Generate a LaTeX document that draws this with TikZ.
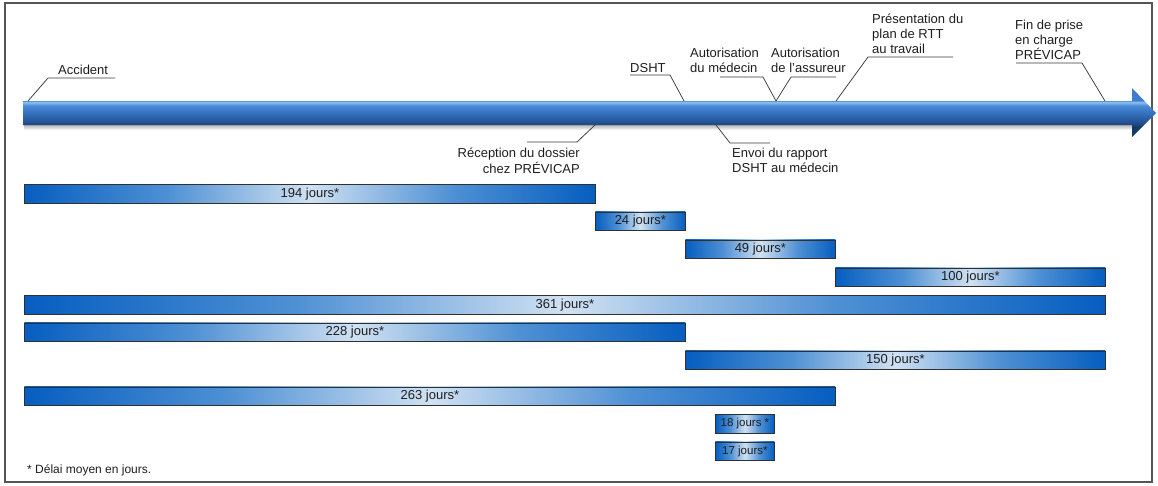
\documentclass[tikz,border=0pt]{standalone}
\usepackage{fontspec}
\setmainfont{Liberation Sans}

% colours of the duration bars
\definecolor{bardark}{RGB}{6,94,192}
\definecolor{barmid}{RGB}{78,144,212}
\definecolor{barlight}{RGB}{208,225,242}
\definecolor{bargray}{HTML}{303030}
\definecolor{txt}{HTML}{1E1E1E}
\definecolor{leadgray}{HTML}{3A3A3A}
\definecolor{framegray}{HTML}{555555}

% colours of the time axis arrow
\definecolor{shA}{HTML}{163A6C}
\definecolor{shB}{HTML}{1D4680}
\definecolor{shC}{HTML}{2A5FA7}
\definecolor{shD}{HTML}{3673C0}
\definecolor{shE}{HTML}{4A8BD6}
\definecolor{shF}{HTML}{8EC0F4}
\definecolor{shG}{HTML}{3E7CCC}

\pgfdeclarehorizontalshading{barshade}{100bp}{color(0bp)=(bardark); color(25bp)=(bardark); color(37.5bp)=(barmid); color(50bp)=(barlight); color(62.5bp)=(barmid); color(75bp)=(bardark); color(100bp)=(bardark)}
\pgfdeclareverticalshading{shaftshade}{100bp}{color(0bp)=(shA); color(36bp)=(shA); color(37.5bp)=(shB); color(44bp)=(shC); color(50bp)=(shD); color(57bp)=(shE); color(60.5bp)=(shF); color(62.5bp)=(shG); color(100bp)=(shG)}

\begin{document}
\begin{tikzpicture}[x=1pt,y=-1pt,
  leader/.style={draw=leadgray, line width=0.75pt},
  lbl/.style={font=\fontsize{13}{15}\selectfont, text=txt, inner sep=0pt},
  bar/.style={draw=bargray, line width=0.8pt, shading=barshade, inner sep=0pt,
    font=\fontsize{13}{15}\selectfont, text=txt, anchor=north west, minimum height=18.5pt},
  smallbar/.style={bar, font=\fontsize{11.5}{14}\selectfont}]

\useasboundingbox (0,0) rectangle (1158,485);
\draw[framegray, line width=1.1pt] (5,3) rectangle (1152,482);

% time axis
\shade[top color=black!30, bottom color=white] (24,125) rectangle (1134,130);
\shade[shading=shaftshade] (23,101) -- (1132,101) -- (1132,88) -- (1156,113)
  -- (1132,137) -- (1132,125) -- (23,125) -- cycle;

% events on the axis and their leaders
\coordinate (pAcc) at (28,101);  \coordinate (kAcc) at (48,78);   \coordinate (eAcc) at (115,78);
\coordinate (pRec) at (595,125); \coordinate (kRec) at (577,142); \coordinate (eRec) at (527,142);
\coordinate (pDsh) at (684,101); \coordinate (kDsh) at (670,75);  \coordinate (eDsh) at (630,75);
\coordinate (pEnv) at (716,125); \coordinate (kEnv) at (730,143); \coordinate (eEnv) at (770,143);
\coordinate (pMed) at (776,101); \coordinate (kMed) at (763,77);  \coordinate (eMed) at (720,77);
\coordinate (pAss) at (776,101); \coordinate (kAss) at (791,77);  \coordinate (eAss) at (836,77);
\coordinate (pPre) at (836,101); \coordinate (kPre) at (868,57);  \coordinate (ePre) at (953,57);
\coordinate (pFin) at (1105,101);\coordinate (kFin) at (1082,63); \coordinate (eFin) at (1016,63);

\draw[leader] (pAcc) -- (kAcc) -- (eAcc);
\draw[leader] (pRec) -- (kRec) -- (eRec);
\draw[leader] (pDsh) -- (kDsh) -- (eDsh);
\draw[leader] (pEnv) -- (kEnv) -- (eEnv);
\draw[leader] (pMed) -- (kMed) -- (eMed);
\draw[leader] (pAss) -- (kAss) -- (eAss);
\draw[leader] (pPre) -- (kPre) -- (ePre);
\draw[leader] (pFin) -- (kFin) -- (eFin);

\node[lbl, anchor=base west] (tAcc) at (58,74) {Accident};
\node[lbl, anchor=base west] (tDsh) at (630,72) {DSHT};
\node[lbl, anchor=north west, align=left] (tMed) at (690,46.5) {\strut Autorisation\\du médecin};
\node[lbl, anchor=north west, align=left] (tAss) at (771,46.5) {\strut Autorisation\\de l'assureur};
\node[lbl, anchor=north east, align=right] (tRec) at (580,146.5) {\strut Réception du dossier\\chez PRÉVICAP};
\node[lbl, anchor=north west, align=left] (tEnv) at (732,146.5) {\strut Envoi du rapport\\DSHT au médecin};
\node[lbl, anchor=north west, align=left] (tPre) at (872,12.5) {\strut Présentation du\\plan de RTT\\au travail};
\node[lbl, anchor=north west, align=left] (tFin) at (1015,18.5) {\strut Fin de prise\\en charge\\PRÉVICAP};

% durations
\node[bar, minimum width=571pt] (b194) at (24,184) {194 jours*};
\node[bar, minimum width=90pt]  (b24)  at (595,211.5) {24 jours*};
\node[bar, minimum width=150pt] (b49)  at (685,239.5) {49 jours*};
\node[bar, minimum width=270pt] (b100) at (835,267.5) {100 jours*};
\node[bar, minimum width=1081pt] (b361) at (24,295) {361 jours*};
\node[bar, minimum width=661pt] (b228) at (24,322.5) {228 jours*};
\node[bar, minimum width=420pt] (b150) at (685,350.5) {150 jours*};
\node[bar, minimum width=811pt] (b263) at (24,386.5) {263 jours*};
\node[smallbar, minimum width=59pt] (b18) at (715,414) {18 jours *};
\node[smallbar, minimum width=59pt] (b17) at (715,441.5) {17 jours*};

\node[lbl, font=\fontsize{12}{14}\selectfont, anchor=base west] (note) at (27,473) {* Délai moyen en jours.};
\end{tikzpicture}
\end{document}
